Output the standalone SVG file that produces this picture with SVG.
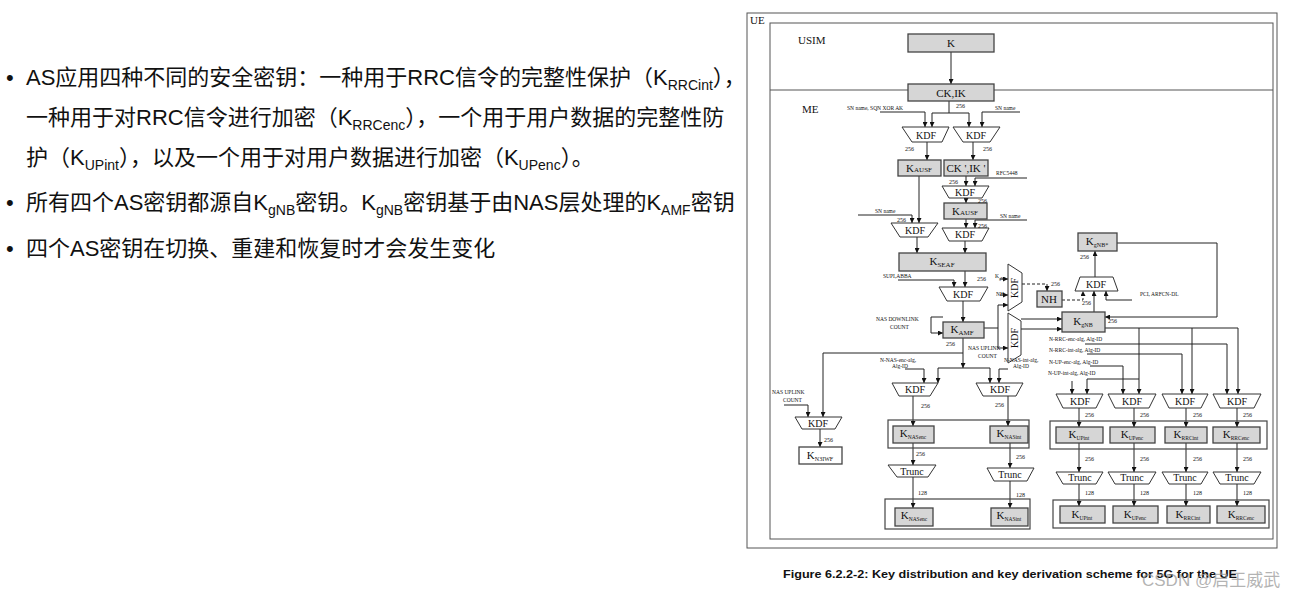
<svg xmlns="http://www.w3.org/2000/svg" width="1296" height="598" viewBox="0 0 1296 598">
<defs>
<marker id="a" viewBox="0 0 6 6" refX="6" refY="3" markerWidth="5" markerHeight="5" orient="auto" markerUnits="userSpaceOnUse"><path d="M0,0L6,3L0,6z" fill="#111"/></marker>
<style>
.cn{font-family:"Liberation Sans","Noto Sans CJK SC",sans-serif;font-size:22px;fill:#111}
.bx{fill:#d6d6d6;stroke:#444;stroke-width:1.3}
.wb{fill:#fff;stroke:#444;stroke-width:1.3}
.gp{fill:none;stroke:#444;stroke-width:1.2}
.tz{fill:#fff;stroke:#333;stroke-width:1}
.fr{fill:none;stroke:#555;stroke-width:1}
.c path,.c line,.c polyline{fill:none;stroke:#222;stroke-width:1}
.ar{marker-end:url(#a)}
.ds{stroke-dasharray:3 2}
.t{font-family:"Liberation Serif","Times New Roman",serif;fill:#111}
.lb{font-size:11px;text-anchor:middle}
.kd{font-size:10px;text-anchor:middle}
.s{font-size:5.5px}
.n{font-size:6px}
.cap{font-family:"Liberation Sans",Arial,sans-serif;font-weight:bold;font-size:11px;fill:#111}
</style>
</defs>
<rect width="1296" height="598" fill="#fff"/>

<g id="bullets">
<text class="cn" x="6" y="85">•</text>
<text class="cn" x="6" y="210">•</text>
<text class="cn" x="6" y="256">•</text>
<text class="cn" x="26" y="85">AS应用四种不同的安全密钥：一种用于RRC信令的完整性保护（K<tspan font-size="14" dy="5">RRCint</tspan><tspan dy="-5">），</tspan></text>
<text class="cn" x="26" y="125">一种用于对RRC信令进行加密（K<tspan font-size="14" dy="5">RRCenc</tspan><tspan dy="-5">），一个用于用户数据的完整性防</tspan></text>
<text class="cn" x="26" y="165">护（K<tspan font-size="14" dy="5">UPint</tspan><tspan dy="-5">），以及一个用于对用户数据进行加密（K</tspan><tspan font-size="14" dy="5">UPenc</tspan><tspan dy="-5">）。</tspan></text>
<text class="cn" x="26" y="210">所有四个AS密钥都源自K<tspan font-size="14" dy="5">gNB</tspan><tspan dy="-5">密钥。K</tspan><tspan font-size="14" dy="5">gNB</tspan><tspan dy="-5">密钥基于由NAS层处理的K</tspan><tspan font-size="14" dy="5">AMF</tspan><tspan dy="-5">密钥</tspan></text>
<text class="cn" x="26" y="256">四个AS密钥在切换、重建和恢复时才会发生变化</text>
</g>

<g id="frames">
<rect class="fr" x="747" y="13" width="530" height="535"/>
<text class="t" x="750" y="24" font-size="11">UE</text>
<rect class="fr" x="770" y="23" width="503" height="516"/>
<line class="fr" x1="770" y1="90" x2="1273" y2="90"/>
<text class="t" x="798" y="44" font-size="11">USIM</text>
<text class="t" x="802" y="113" font-size="11">ME</text>
</g>

<g class="c" id="connectors">
<path class="ar" d="M951,52V84"/>
<path d="M949,101V113M932,113H969"/>
<path class="ar" d="M932,113V127"/><path class="ar" d="M969,113V127"/>
<path class="ar" d="M880,112H925V127"/>
<path class="ar" d="M1020,112H982V127"/>
<path class="ar" d="M927,142V160"/>
<path class="ar" d="M973,142V160"/>
<path class="ar" d="M966,176V186"/>
<path class="ar" d="M1027,178H975V186"/>
<path class="ar" d="M966,198V203"/>
<path class="ar" d="M966,219V228"/>
<path class="ar" d="M1027,220H975V228"/>
<path class="ar" d="M919,176V223"/>
<path class="ar" d="M858,215H912V223"/>
<path class="ar" d="M917,237V253"/>
<path class="ar" d="M965,241V253"/>
<path class="ar" d="M965,271V287"/>
<path class="ar" d="M898,280H954V287"/>
<path class="ar" d="M963,301V322"/>
<path class="ar" d="M943,317H931V333H943"/>
<path d="M984,328H998"/>
<path class="ar" d="M998,328V305H1008"/>
<path class="ar" d="M998,328V348H1008"/>
<path class="ar" d="M1000,279H1008"/>
<path class="ar" d="M1000,295H1008"/>
<path class="ar ds" d="M1022,284H1047V291"/>
<path class="ar ds" d="M1062,300H1083V291"/>
<path class="ar" d="M1094,312V291"/>
<path class="ar" d="M1132,300H1106V291"/>
<path class="ar" d="M1095,277V251"/>
<path class="ar" d="M1117,243H1217V317H1105"/>
<path class="ar" d="M1021,319H1062"/>
<path class="ar" d="M1021,329H1062"/>
<path d="M1105,328H1238"/>
<path class="ar" d="M1139,328V394"/>
<path class="ar" d="M1192,328V394"/>
<path class="ar" d="M1238,328V394"/>
<path class="ar" d="M1139,379H1087V394"/>
<path class="ar" d="M1085,344H1227V394"/>
<path class="ar" d="M1087,354H1182V394"/>
<path class="ar" d="M1090,366H1123V394"/>
<path class="ar" d="M1072,381V394"/>
<path class="ar" d="M1079,408V427"/><path class="ar" d="M1134,408V427"/><path class="ar" d="M1186,408V427"/><path class="ar" d="M1237,408V427"/>
<path class="ar" d="M1079,443V472"/><path class="ar" d="M1134,443V472"/><path class="ar" d="M1186,443V472"/><path class="ar" d="M1237,443V472"/>
<path class="ar" d="M1079,484V506"/><path class="ar" d="M1134,484V506"/><path class="ar" d="M1186,484V506"/><path class="ar" d="M1237,484V506"/>
<path class="ar" d="M963,338V368"/>
<path class="ar" d="M963,353H823V417"/>
<path d="M938,368H990"/>
<path class="ar" d="M938,368V383"/><path class="ar" d="M990,368V383"/>
<path class="ar" d="M905,369H924V383"/>
<path class="ar" d="M1008,369H999V383"/>
<path class="ar" d="M913,396V426"/>
<path class="ar" d="M1008,396V426"/>
<path class="ar" d="M913,443V465"/>
<path class="ar" d="M1010,443V468"/>
<path class="ar" d="M913,477V508"/>
<path class="ar" d="M1010,481V508"/>
<path class="ar" d="M784,405H808V417"/>
<path class="ar" d="M820,429V447"/>
</g>

<g id="groups">
<rect class="gp" x="888" y="420" width="141" height="28"/>
<rect class="gp" x="885" y="499" width="145" height="30"/>
<rect class="gp" x="1050" y="421" width="217" height="28"/>
<rect class="gp" x="1053" y="500" width="216" height="28"/>
</g>

<g id="n-K"><rect class="bx" x="908" y="34" width="86" height="18"/><text class="t lb" x="951" y="47">K</text></g>
<g id="n-CKIK"><rect class="bx" x="908" y="84" width="86" height="17"/><text class="t lb" x="951" y="97">CK,IK</text></g>
<g id="n-kdf1"><polygon class="tz" points="902,127 949,127 942,142 912,142"/><text class="t kd" x="926" y="139">KDF</text></g>
<g id="n-kdf2"><polygon class="tz" points="953,127 1000,127 990,142 963,142"/><text class="t kd" x="976" y="139">KDF</text></g>
<g id="n-KAUSF1"><rect class="bx" x="898" y="160" width="43" height="16"/><text class="t lb" x="919" y="172" font-size="10">K<tspan font-size="7">AUSF</tspan></text></g>
<g id="n-CKIKp"><rect class="bx" x="944" y="160" width="44" height="16"/><text class="t lb" x="966" y="172" font-size="10">CK ',IK '</text></g>
<g id="n-kdf3"><polygon class="tz" points="942,186 989,186 982,198 949,198"/><text class="t kd" x="965" y="196">KDF</text></g>
<g id="n-KAUSF2"><rect class="bx" x="944" y="203" width="43" height="16"/><text class="t lb" x="965" y="215" font-size="10">K<tspan font-size="7">AUSF</tspan></text></g>
<g id="n-kdf4"><polygon class="tz" points="891,223 938,223 928,237 900,237"/><text class="t kd" x="915" y="234">KDF</text></g>
<g id="n-kdf5"><polygon class="tz" points="942,228 989,228 982,241 949,241"/><text class="t kd" x="965" y="238">KDF</text></g>
<g id="n-KSEAF"><rect class="bx" x="899" y="253" width="87" height="18"/><text class="t lb" x="942" y="265">K<tspan font-size="7" dy="2">SEAF</tspan></text></g>
<g id="n-kdf6"><polygon class="tz" points="939,287 988,287 980,301 947,301"/><text class="t kd" x="963" y="298">KDF</text></g>
<g id="n-KAMF"><rect class="bx" x="943" y="322" width="41" height="16"/><text class="t lb" x="962" y="333">K<tspan font-size="7" dy="2">AMF</tspan></text></g>
<g id="n-kdfNH"><polygon class="tz" points="1008,264 1022,273 1022,302 1008,311"/><text class="t kd" transform="translate(1018,288) rotate(-90)">KDF</text></g>
<g id="n-kdfGNB"><polygon class="tz" points="1008,313 1021,321 1021,355 1008,363"/><text class="t kd" transform="translate(1018,338) rotate(-90)">KDF</text></g>
<g id="n-NH"><rect class="bx" x="1037" y="291" width="25" height="16"/><text class="t lb" x="1049" y="303" font-size="10">NH</text></g>
<g id="n-kdfStar"><polygon class="tz" points="1080,277 1113,277 1118,291 1075,291"/><text class="t kd" x="1096" y="288">KDF</text></g>
<g id="n-KgNBs"><rect class="bx" x="1078" y="233" width="39" height="18"/><text class="t lb" x="1097" y="245" font-size="10">K<tspan font-size="6" dy="2">gNB*</tspan></text></g>
<g id="n-KgNB"><rect class="bx" x="1062" y="312" width="43" height="20"/><text class="t lb" x="1083" y="325" font-size="10">K<tspan font-size="6" dy="2">gNB</tspan></text></g>
<g id="n-kdfN3"><polygon class="tz" points="795,417 842,417 835,429 802,429"/><text class="t kd" x="818" y="427">KDF</text></g>
<g id="n-KN3IWF"><rect class="wb" x="799" y="447" width="43" height="17"/><text class="t lb" x="820" y="459" font-size="9">K<tspan font-size="6" dy="2">N3IWF</tspan></text></g>
<g id="n-kdfNE"><polygon class="tz" points="892,383 938,383 930,396 899,396"/><text class="t kd" x="915" y="393">KDF</text></g>
<g id="n-kdfNI"><polygon class="tz" points="976,383 1023,383 1016,396 983,396"/><text class="t kd" x="1000" y="393">KDF</text></g>
<g id="n-KNASenc"><rect class="bx" x="893" y="426" width="41" height="17"/><text class="t lb" x="913" y="437" font-size="9">K<tspan font-size="5.5" dy="2">NASenc</tspan></text></g>
<g id="n-KNASint"><rect class="bx" x="990" y="426" width="38" height="17"/><text class="t lb" x="1009" y="437" font-size="9">K<tspan font-size="5.5" dy="2">NASint</tspan></text></g>
<g id="n-truncNE"><polygon class="tz" points="888,465 936,465 928,477 897,477"/><text class="t kd" x="912" y="475" font-size="8">Trunc</text></g>
<g id="n-truncNI"><polygon class="tz" points="987,468 1034,468 1027,481 994,481"/><text class="t kd" x="1010" y="478" font-size="8">Trunc</text></g>
<g id="n-KNASenc2"><rect class="bx" x="895" y="508" width="38" height="18"/><text class="t lb" x="914" y="519" font-size="9">K<tspan font-size="5.5" dy="2">NASenc</tspan></text></g>
<g id="n-KNASint2"><rect class="bx" x="991" y="508" width="37" height="18"/><text class="t lb" x="1009" y="519" font-size="9">K<tspan font-size="5.5" dy="2">NASint</tspan></text></g>

<g id="n-kdfA1"><polygon class="tz" points="1056,394 1103,394 1096,408 1063,408"/><text class="t kd" x="1080" y="405">KDF</text></g>
<g id="n-kdfA2"><polygon class="tz" points="1108,394 1156,394 1149,408 1115,408"/><text class="t kd" x="1132" y="405">KDF</text></g>
<g id="n-kdfA3"><polygon class="tz" points="1162,394 1208,394 1201,408 1169,408"/><text class="t kd" x="1185" y="405">KDF</text></g>
<g id="n-kdfA4"><polygon class="tz" points="1213,394 1261,394 1254,408 1220,408"/><text class="t kd" x="1237" y="405">KDF</text></g>
<g id="n-KUPint"><rect class="bx" x="1056" y="427" width="47" height="16"/><text class="t lb" x="1079" y="438" font-size="9">K<tspan font-size="5.5" dy="2">UPint</tspan></text></g>
<g id="n-KUPenc"><rect class="bx" x="1110" y="427" width="45" height="16"/><text class="t lb" x="1132" y="438" font-size="9">K<tspan font-size="5.5" dy="2">UPenc</tspan></text></g>
<g id="n-KRRCint"><rect class="bx" x="1165" y="427" width="42" height="16"/><text class="t lb" x="1186" y="438" font-size="9">K<tspan font-size="5.5" dy="2">RRCint</tspan></text></g>
<g id="n-KRRCenc"><rect class="bx" x="1213" y="427" width="47" height="16"/><text class="t lb" x="1236" y="438" font-size="9">K<tspan font-size="5.5" dy="2">RRCenc</tspan></text></g>
<g id="n-trA1"><polygon class="tz" points="1056,472 1103,472 1096,484 1063,484"/><text class="t kd" x="1080" y="481" font-size="8">Trunc</text></g>
<g id="n-trA2"><polygon class="tz" points="1108,472 1156,472 1149,484 1115,484"/><text class="t kd" x="1132" y="481" font-size="8">Trunc</text></g>
<g id="n-trA3"><polygon class="tz" points="1162,472 1208,472 1201,484 1169,484"/><text class="t kd" x="1185" y="481" font-size="8">Trunc</text></g>
<g id="n-trA4"><polygon class="tz" points="1213,472 1261,472 1254,484 1220,484"/><text class="t kd" x="1237" y="481" font-size="8">Trunc</text></g>
<g id="n-KUPint2"><rect class="bx" x="1060" y="506" width="45" height="17"/><text class="t lb" x="1082" y="518" font-size="9">K<tspan font-size="5.5" dy="2">UPint</tspan></text></g>
<g id="n-KUPenc2"><rect class="bx" x="1113" y="506" width="45" height="17"/><text class="t lb" x="1135" y="518" font-size="9">K<tspan font-size="5.5" dy="2">UPenc</tspan></text></g>
<g id="n-KRRCint2"><rect class="bx" x="1167" y="506" width="43" height="17"/><text class="t lb" x="1188" y="518" font-size="9">K<tspan font-size="5.5" dy="2">RRCint</tspan></text></g>
<g id="n-KRRCenc2"><rect class="bx" x="1217" y="506" width="48" height="17"/><text class="t lb" x="1241" y="518" font-size="9">K<tspan font-size="5.5" dy="2">RRCenc</tspan></text></g>

<g id="labels" class="t">
<text class="s" x="847" y="110">SN name, SQN XOR AK</text>
<text class="s" x="995" y="110">SN name</text>
<text class="n" x="956" y="108">256</text>
<text class="n" x="905" y="151">256</text>
<text class="n" x="983" y="151">256</text>
<text class="s" x="996" y="175">RFC5448</text>
<text class="n" x="949" y="184">256</text>
<text class="n" x="978" y="203">256</text>
<text class="s" x="1000" y="218">SN name</text>
<text class="n" x="978" y="228">256</text>
<text class="s" x="875" y="213">SN name</text>
<text class="n" x="897" y="222">256</text>
<text class="s" x="883" y="278">SUPI,ABBA</text>
<text class="n" x="977" y="281">256</text>
<text class="s" x="876" y="321">NAS DOWNLINK</text>
<text class="s" x="890" y="329">COUNT</text>
<text class="n" x="946" y="346">256</text>
<text class="s" x="995" y="278">K<tspan font-size="3.5" dy="1.5">gNB</tspan></text>
<text class="s" x="996" y="296">NH</text>
<text class="n" x="1051" y="286">256</text>
<text class="n" x="1082" y="305">256</text>
<text class="s" x="1140" y="296">PCI, ARFCN-DL</text>
<text class="n" x="1080" y="259">256</text>
<text class="n" x="1108" y="323">256</text>
<text class="s" x="968" y="350">NAS UPLINK</text>
<text class="s" x="978" y="358">COUNT</text>
<text class="s" x="1049" y="341">N-RRC-enc-alg, Alg-ID</text>
<text class="s" x="1049" y="352">N-RRC-int-alg, Alg-ID</text>
<text class="s" x="1049" y="364">N-UP-enc-alg, Alg-ID</text>
<text class="s" x="1048" y="375">N-UP-int-alg, Alg-ID</text>
<text class="s" x="880" y="362">N-NAS-enc-alg,</text>
<text class="s" x="892" y="368">Alg-ID</text>
<text class="s" x="1004" y="362">N-NAS-int-alg,</text>
<text class="s" x="1013" y="368">Alg-ID</text>
<text class="s" x="772" y="394">NAS UPLINK</text>
<text class="s" x="783" y="402">COUNT</text>
<text class="n" x="921" y="408">256</text>
<text class="n" x="995" y="407">256</text>
<text class="n" x="916" y="456">256</text>
<text class="n" x="1016" y="459">256</text>
<text class="n" x="918" y="495">128</text>
<text class="n" x="1016" y="497">128</text>
<text class="n" x="824" y="442">256</text>
<text class="n" x="1085" y="417">256</text><text class="n" x="1140" y="417">256</text><text class="n" x="1193" y="417">256</text><text class="n" x="1243" y="417">256</text>
<text class="n" x="1085" y="461">256</text><text class="n" x="1140" y="461">256</text><text class="n" x="1193" y="461">256</text><text class="n" x="1243" y="461">256</text>
<text class="n" x="1085" y="495">128</text><text class="n" x="1140" y="495">128</text><text class="n" x="1193" y="495">128</text><text class="n" x="1243" y="495">128</text>
</g>

<g id="caption">
<text class="cap" x="783" y="578" textLength="454" lengthAdjust="spacingAndGlyphs">Figure 6.2.2-2: Key distribution and key derivation scheme for 5G for the UE</text>
<text x="1142" y="586" font-family="'Liberation Sans','Noto Sans CJK SC',sans-serif" font-size="17" fill="#9a9a9a" fill-opacity="0.75">CSDN @启王威武</text>
</g>
</svg>
